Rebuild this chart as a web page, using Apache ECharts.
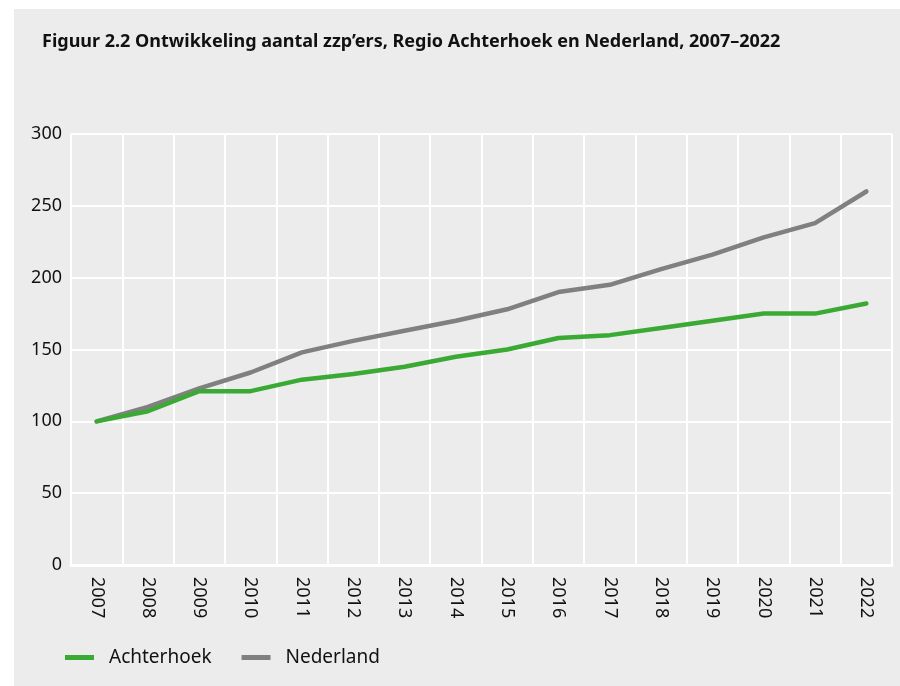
<!DOCTYPE html>
<html lang="nl">
<head>
    <meta charset="UTF-8">
    <title>Figuur 2.2</title>
    <script src="https://cdn.jsdelivr.net/npm/echarts@6/dist/echarts.min.js"></script>
    <style>
        body { margin: 0; background: #ffffff; }
        #main { position: absolute; left: 14px; top: 9px; width: 886px; height: 677px; background: #ececec; }
    </style>
</head>
<body>
<div id="main"></div>
<script type="text/javascript">
    // jaren op de x-as
    var jaren = ['2007','2008','2009','2010','2011','2012','2013','2014','2015','2016','2017','2018','2019','2020','2021','2022'];
    // index, 2007 = 100
    var achterhoek = [100, 107, 121, 121, 129, 133, 138, 145, 150, 158, 160, 165, 170, 175, 175, 182];
    var nederland = [100, 110, 123, 134, 148, 156, 163, 170, 178, 190, 195, 206, 216, 228, 238, 260];
    var yTicks = [0, 50, 100, 150, 200, 250, 300];

    var myChart = echarts.init(document.getElementById('main'));
    var font = 'Noto Sans';
    var option = {
        backgroundColor: '#ececec',
        animation: false,
        title: {
            text: 'Figuur 2.2 Ontwikkeling aantal zzp\u2019ers, Regio Achterhoek en Nederland, 2007\u20132022',
            left: 23,
            top: 19,
            textStyle: { fontFamily: font, fontWeight: 'bold', fontSize: 18, color: '#111' }
        },
        legend: {
            left: 46,
            top: 634,
            itemWidth: 29,
            itemHeight: 5,
            itemGap: 30,
            icon: 'rect',
            textStyle: { fontFamily: font, fontSize: 19, color: '#111', padding: [0, 0, 0, 10] },
            data: ['Achterhoek', 'Nederland']
        },
        grid: { left: 57, right: 8, top: 125, bottom: 121 },
        xAxis: {
            type: 'category',
            data: jaren,
            boundaryGap: true,
            axisLine: { lineStyle: { color: '#ffffff', width: 3 } },
            axisTick: { show: false },
            axisLabel: { rotate: -90, fontFamily: font, fontSize: 18, color: '#111', margin: 12 },
            splitLine: { show: true, lineStyle: { color: '#ffffff', width: 2 } }
        },
        yAxis: {
            type: 'value',
            min: yTicks[0],
            max: yTicks[yTicks.length - 1],
            interval: 50,
            axisLine: { show: false },
            axisTick: { show: false },
            axisLabel: { fontFamily: font, fontSize: 18, color: '#111', margin: 9 },
            splitLine: { lineStyle: { color: '#ffffff', width: 2 } }
        },
        series: [
            {
                name: 'Achterhoek',
                type: 'line',
                data: achterhoek,
                symbol: 'none',
                itemStyle: { color: '#3aaa35' },
                lineStyle: { color: '#3aaa35', width: 4.5, cap: 'round' }
            },
            {
                name: 'Nederland',
                type: 'line',
                data: nederland,
                symbol: 'none',
                z: 1,
                itemStyle: { color: '#808080' },
                lineStyle: { color: '#808080', width: 4.5, cap: 'round' }
            }
        ]
    };
    myChart.setOption(option);
</script>
</body>
</html>
